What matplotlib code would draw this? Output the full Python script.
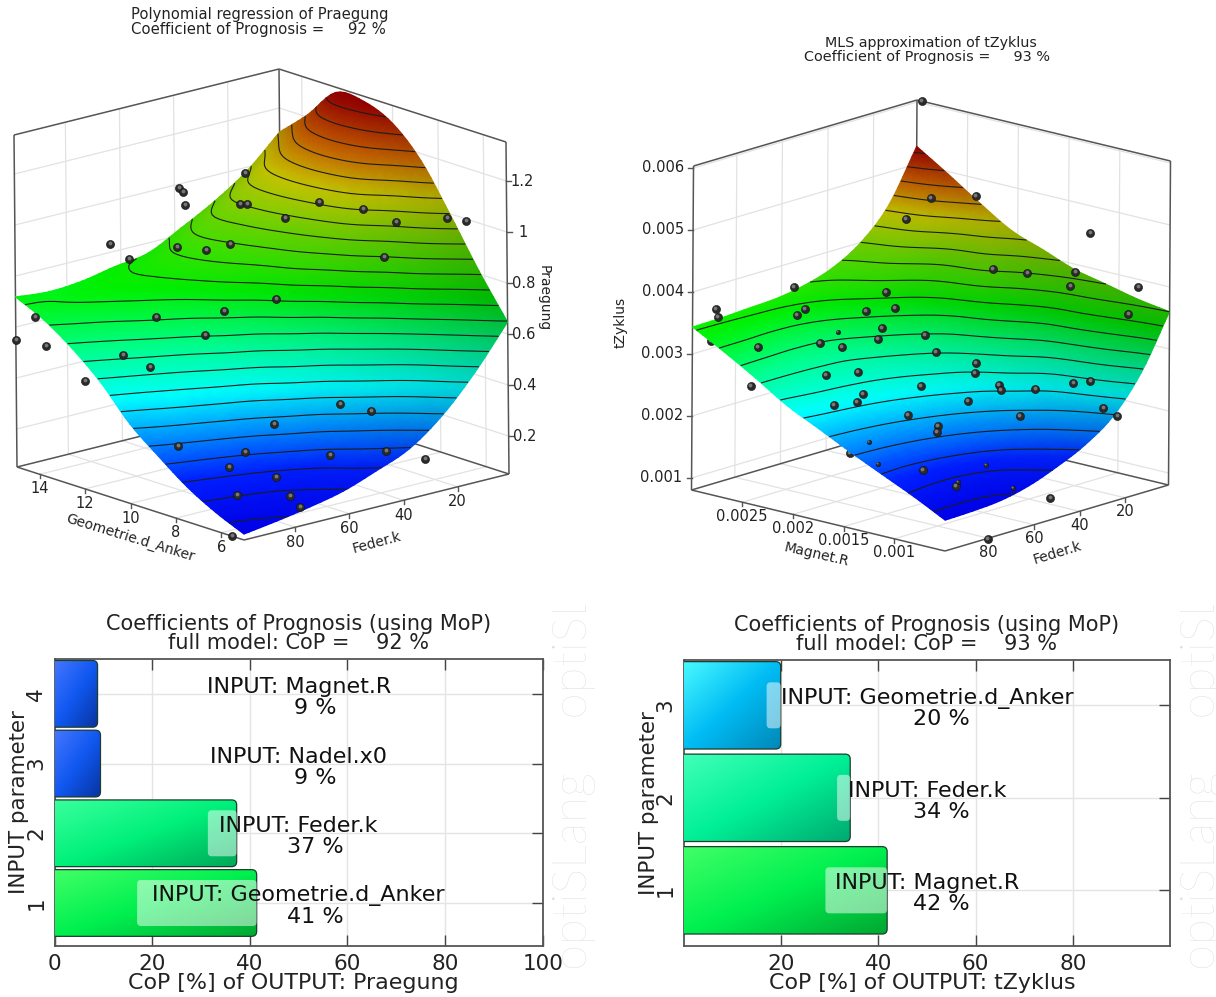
import numpy as np
import matplotlib
matplotlib.use("Agg")
import matplotlib.pyplot as plt
from matplotlib.colors import LinearSegmentedColormap, Normalize
from matplotlib.patches import FancyBboxPatch

W, H = 1216, 997

# ---------- panel 1 data: Praegung surface ----------
feder_k_nodes = [99, 86.75, 74.5, 62.25, 50, 37.75, 25.5, 13.25, 1]
anker_nodes = [5, 6.25, 7.5, 8.75, 10, 11.25, 12.5, 13.75, 15]
praegung_surface = [
    [0.074, 0.093, 0.116, 0.145, 0.192, 0.246, 0.344, 0.481, 0.647],
    [0.124, 0.136, 0.159, 0.201, 0.268, 0.348, 0.465, 0.633, 0.813],
    [0.188, 0.212, 0.248, 0.306, 0.374, 0.486, 0.624, 0.812, 0.998],
    [0.272, 0.311, 0.360, 0.421, 0.522, 0.628, 0.789, 0.957, 1.171],
    [0.363, 0.423, 0.486, 0.564, 0.641, 0.766, 0.903, 1.111, 1.283],
    [0.487, 0.542, 0.601, 0.661, 0.743, 0.834, 0.969, 1.166, 1.333],
    [0.585, 0.632, 0.684, 0.729, 0.795, 0.874, 0.996, 1.153, 1.333],
    [0.663, 0.700, 0.730, 0.755, 0.805, 0.885, 0.980, 1.084, 1.210],
    [0.718, 0.706, 0.715, 0.740, 0.760, 0.826, 0.897, 0.985, 1.106],
]
praegung_levels = [round(.1 + .05 * i, 2) for i in range(25)]
praegung_ticks = [.2, .4, .6, .8, 1, 1.2]
praegung_k_ticks = [20, 40, 60, 80]
praegung_d_ticks = [6, 8, 10, 12, 14]
# sample points as seen in the view plane
praegung_pts_h = [245, 179, 183, 185, 240, 247, 319, 363, 396, 447, 466, 285, 110, 177, 206, 230, 384, 129,
                  276, 224, 156, 35, 16, 46, 205, 123, 150, 85, 340, 371, 274, 178, 245, 229, 330, 386, 425,
                  276, 237, 290, 300, 232]
praegung_pts_v = [173, 188, 192, 205, 204, 204, 202, 209, 222, 218, 221, 218, 244, 247, 250, 244, 257, 259,
                  299, 311, 317, 317, 340, 346, 335, 355, 367, 381, 404, 411, 424, 446, 452, 467, 455, 451, 459,
                  477, 495, 496, 507, 536]

# ---------- panel 2 data: tZyklus surface (in 1e-3) ----------
magnet_nodes = [.0005, .00081, .00113, .00144, .00175, .00206, .00238, .00269, .003]
tzyklus_surface = [
    [1.302, 1.318, 1.355, 1.459, 1.632, 1.851, 2.180, 2.750, 3.602],
    [1.559, 1.531, 1.535, 1.622, 1.810, 2.041, 2.365, 3.006, 3.680],
    [1.799, 1.789, 1.825, 1.916, 2.062, 2.269, 2.549, 3.182, 3.800],
    [2.034, 2.056, 2.105, 2.189, 2.315, 2.493, 2.854, 3.290, 3.915],
    [2.285, 2.315, 2.362, 2.441, 2.556, 2.722, 3.079, 3.530, 4.109],
    [2.531, 2.586, 2.622, 2.673, 2.776, 2.948, 3.247, 3.845, 4.297],
    [2.860, 2.853, 2.860, 2.891, 3.022, 3.211, 3.504, 3.999, 4.621],
    [3.158, 3.151, 3.136, 3.168, 3.286, 3.511, 3.839, 4.306, 4.961],
    [3.435, 3.445, 3.471, 3.497, 3.576, 3.722, 3.994, 4.464, 5.285],
]
tzyklus_levels = [round(1.4 + .2 * i, 1) for i in range(20)]
tzyklus_ticks = [.001, .002, .003, .004, .005, .006]
tzyklus_k_ticks = [20, 40, 60, 80]
tzyklus_r_ticks = [.001, .0015, .002, .0025]
tzyklus_pts_h = [922, 976, 931, 906, 1090, 993, 1027, 1075, 1070, 1138, 794, 886, 716, 718, 805, 797, 866, 895,
                 882, 925, 820, 878, 842, 758, 936, 976, 975, 826, 858, 921, 863, 834, 857, 751, 999, 1001, 1035,
                 1073, 1090, 1128, 968, 1103, 1117, 1020, 908, 938, 937, 923, 956, 1050, 988]
tzyklus_pts_v = [101, 196, 198, 219, 233, 269, 273, 272, 286, 287, 287, 292, 309, 317, 309, 315, 311, 308,
                 328, 335, 343, 339, 347, 347, 352, 363, 373, 375, 372, 386, 394, 405, 402, 386, 385, 390, 389,
                 383, 381, 314, 401, 408, 416, 416, 415, 426, 432, 470, 486, 498, 539]
tzyklus_small_h = [838, 869, 878, 986, 958, 1013]
tzyklus_small_v = [332, 442, 464, 465, 482, 488]
tzyklus_hidden_h = [711, 850]
tzyklus_hidden_v = [341, 453]

# ---------- bar panels ----------
cop_left_inputs = ["Geometrie.d_Anker", "Feder.k", "Nadel.x0", "Magnet.R"]
cop_left_values = [41.4, 37.3, 9.4, 8.8]
cop_left_labels = ["41 %", "37 %", "9 %", "9 %"]
cop_right_inputs = ["Magnet.R", "Feder.k", "Geometrie.d_Anker"]
cop_right_values = [41.8, 34.2, 19.9]
cop_right_labels = ["42 %", "34 %", "20 %"]

surface_cmap = LinearSegmentedColormap.from_list("surface", [
    (0.00, (0, 0, .90)), (0.10, (0, .12, 1)), (0.285, (0, 1, 1)), (0.40, (0, 1, .55)),
    (0.52, (0, .95, 0)), (0.66, (.45, .90, 0)), (0.78, (.90, .88, 0)), (0.88, (.92, .45, 0)),
    (1.00, (.74, 0, 0))])

GRID = "#e2e2e2"
EDGE = "#555555"


def pixel_axes(x0, y0, x1, y1):
    ax = fig.add_axes([x0 / W, 1 - y1 / H, (x1 - x0) / W, (y1 - y0) / H])
    ax.set_xlim(x0, x1)
    ax.set_ylim(y1, y0)
    ax.axis("off")
    return ax


def view_maps(ax, view, rk, rb, rz, bk, bz):
    F, U, V, Wv = [np.array(p, float) for p in view]

    def proj(u, v, w):
        u, v, w = np.asarray(u, float), np.asarray(v, float), np.asarray(w, float)
        return (F[0] + u * U[0] + v * V[0] + w * Wv[0], F[1] + u * U[1] + v * V[1] + w * Wv[1])

    fu = lambda k: (rk[1] - np.asarray(k, float)) / (rk[1] - rk[0])
    fv = lambda b: (np.asarray(b, float) - rb[0]) / (rb[1] - rb[0])
    fw = lambda z: (np.asarray(z, float) - rz[0]) / (rz[1] - rz[0])

    def seg(a, b, **kw):
        pa, pb = proj(*a), proj(*b)
        ax.plot([pa[0], pb[0]], [pa[1], pb[1]], solid_capstyle="butt", **kw)

    g = dict(color=GRID, lw=.9, zorder=1)
    for k in bk:
        u = fu(k)
        seg((u, 1, 0), (u, 1, 1), **g)
        seg((u, 0, 0), (u, 1, 0), **g)
    for b in bz:
        v = fv(b)
        seg((1, v, 0), (1, v, 1), **g)
        seg((0, v, 0), (1, v, 0), **g)
    return proj, fu, fv, fw, seg


def fine_mesh(A, n=6):
    """Subdivide the drawn mesh along both grid directions (Catmull-Rom) so facets do not show."""
    def along(B):
        m = B.shape[0]
        P = np.vstack([2 * B[0] - B[1], B, 2 * B[-1] - B[-2]])
        out = []
        for i in range(m - 1):
            for t in np.arange(n) / n:
                p0, p1, p2, p3 = P[i], P[i + 1], P[i + 2], P[i + 3]
                out.append(.5 * (2 * p1 + (p2 - p0) * t + (2 * p0 - 5 * p1 + 4 * p2 - p3) * t ** 2
                                 + (3 * p1 - p0 - 3 * p2 + p3) * t ** 3))
        out.append(B[-1])
        return np.array(out)
    return along(along(A).T).T


def draw_surface(ax, proj, fu, fv, fw, knodes, bnodes, Z, levels):
    u, v = np.meshgrid(fu(knodes), fv(bnodes))
    Z = np.array(Z, float)
    zmin, zmax = Z.min(), Z.max()
    fu_, fv_, fz_ = fine_mesh(u), fine_mesh(v), fine_mesh(Z)
    X, Y = proj(fu_, fv_, fw(fz_))
    rgba = surface_cmap(Normalize(zmin, zmax)(fz_))
    shade = 1 - .24 * np.clip(fu_, 0, 1) ** 2.5
    rgba[..., :3] *= shade[..., None]
    # paint from the back corner forwards
    ax.pcolormesh(X[::-1, ::-1], Y[::-1, ::-1], rgba[::-1, ::-1], shading="gouraud", zorder=3, rasterized=True)
    ax.contour(X, Y, fz_, levels=levels, colors="#1c1c1c", linewidths=.8, zorder=4)


def balls(ax, h, v, size=34, z=6):
    ax.scatter(h, v, s=size, c="#2a2a2a", edgecolors="#111111", linewidths=.4, zorder=z)
    ax.scatter(np.array(h) - .5, np.array(v) - 1, s=size * .22, c="#777777", linewidths=0, zorder=z + .1)


def box(seg, zticks, fw):
    e = dict(color=EDGE, lw=1.1, zorder=2)
    seg((0, 1, 0), (0, 0, 0), **e)
    seg((0, 0, 0), (1, 0, 0), **e)
    seg((0, 1, 0), (1, 1, 0), **e)
    seg((1, 0, 0), (1, 1, 0), **e)
    seg((0, 1, 0), (0, 1, 1), **e)
    seg((1, 0, 0), (1, 0, 1), **e)
    seg((1, 1, 0), (1, 1, 1), **e)
    seg((0, 1, 1), (1, 1, 1), **e)
    seg((1, 0, 1), (1, 1, 1), **e)
    g = dict(color=GRID, lw=.9, zorder=1)
    for z in zticks:
        w = fw(z)
        seg((0, 1, w), (1, 1, w), **g)
        seg((1, 0, w), (1, 1, w), **g)


fig = plt.figure(figsize=(W / 100, H / 100), dpi=100, facecolor="white")
TXT = "#222222"

# ---------------- panel 1 ----------------
ax1 = pixel_axes(0, 0, 600, 600)
view1 = ((244, 540), (265, -66), (-227, -73), (-3, -332))
rk1, rd1, rz1 = (1, 99), (5, 15), (.051, 1.353)
proj, fu, fv, fw, seg = view_maps(ax1, view1, rk1, rd1, rz1, praegung_k_ticks, praegung_d_ticks)
box(seg, praegung_ticks, fw)
draw_surface(ax1, proj, fu, fv, fw, feder_k_nodes, anker_nodes, praegung_surface, praegung_levels)
balls(ax1, praegung_pts_h, praegung_pts_v)
for z in praegung_ticks:
    x, y = proj(1, 0, fw(z))
    ax1.plot([x, x + 5], [y, y], color=EDGE, lw=1, zorder=2)
    ax1.text(x + 16, y, f"{z:g}", ha="center", va="center", fontsize=10.5, color=TXT)
for k in praegung_k_ticks:
    x, y = proj(fu(k), 0, 0)
    ax1.plot([x, x], [y, y + 4], color=EDGE, lw=1, zorder=2)
    ax1.text(x, y + 15, str(k), ha="center", va="center", fontsize=10.5, color=TXT)
for d in praegung_d_ticks:
    x, y = proj(0, fv(d), 0)
    ax1.plot([x, x], [y, y + 4], color=EDGE, lw=1, zorder=2)
    ax1.text(x, y + 14.5, str(d), ha="center", va="center", fontsize=10.5, color=TXT)
ax1.text(544, 298, "Praegung", rotation=270, ha="center", va="center", fontsize=10, color=TXT)
ax1.text(377, 543, "Feder.k", rotation=15, ha="center", va="center", fontsize=10, color=TXT)
ax1.text(130, 538, "Geometrie.d_Anker", rotation=-17, ha="center", va="center", fontsize=10, color=TXT)
ax1.text(260, 14.5, "Polynomial regression of Praegung", ha="center", va="center", fontsize=10.6, color=TXT)
ax1.text(258.5, 29.5, "Coefficient of Prognosis =     92 %", ha="center", va="center", fontsize=10.7, color=TXT)

# ---------------- panel 2 ----------------
ax2 = pixel_axes(600, 0, W, 600)
view2 = ((945, 551), (223.5, -66), (-253.5, -61), (2, -324))
rk2, rr2, rz2 = (1, 99), (.0005, .003), (.806, 6.032)
proj, fu, fv, fw, seg = view_maps(ax2, view2, rk2, rr2, rz2, tzyklus_k_ticks, tzyklus_r_ticks)
box(seg, [t * 1000 for t in tzyklus_ticks], fw)
balls(ax2, tzyklus_hidden_h, tzyklus_hidden_v, z=2.5)
draw_surface(ax2, proj, fu, fv, fw, feder_k_nodes, magnet_nodes, tzyklus_surface, tzyklus_levels)
balls(ax2, tzyklus_pts_h, tzyklus_pts_v)
balls(ax2, tzyklus_small_h, tzyklus_small_v, size=10)
for z in tzyklus_ticks:
    x, y = proj(0, 1, fw(z * 1000))
    ax2.plot([x, x - 5], [y, y], color=EDGE, lw=1, zorder=2)
    ax2.text(x - 9, y, f"{z:g}", ha="right", va="center", fontsize=10.5, color=TXT)
for k in tzyklus_k_ticks:
    x, y = proj(fu(k), 0, 0)
    ax2.plot([x, x], [y, y + 4], color=EDGE, lw=1, zorder=2)
    ax2.text(x, y + 14, str(k), ha="center", va="center", fontsize=10.5, color=TXT)
for r in tzyklus_r_ticks:
    x, y = proj(0, fv(r), 0)
    ax2.plot([x, x], [y, y + 4], color=EDGE, lw=1, zorder=2)
    ax2.text(x, y + 14, f"{r:g}", ha="center", va="center", fontsize=10.5, color=TXT)
ax2.text(621, 322, "tZyklus", rotation=90, ha="center", va="center", fontsize=10, color=TXT)
ax2.text(1057, 553, "Feder.k", rotation=17, ha="center", va="center", fontsize=10, color=TXT)
ax2.text(816.5, 555, "Magnet.R", rotation=-13, ha="center", va="center", fontsize=10, color=TXT)
ax2.text(930.5, 43, "MLS approximation of tZyklus", ha="center", va="center", fontsize=10.3, color=TXT)
ax2.text(927.5, 57.5, "Coefficient of Prognosis =     93 %", ha="center", va="center", fontsize=10.4, color=TXT)


# ---------------- bar panels ----------------
def cop_panel(rect, ylim, xticks, inputs, values, labels, colours, glow, output, cop, text_x, bar_h):
    x0, y0, x1, y1 = rect
    ax = fig.add_axes([x0 / W, 1 - y1 / H, (x1 - x0) / W, (y1 - y0) / H])
    xlim = (0, 100)
    pos = np.arange(1, len(values) + 1)
    ax.set_xlim(*xlim)
    ax.set_ylim(*ylim)
    ppx = (x1 - x0) / (xlim[1] - xlim[0])
    ppy = (y1 - y0) / (ylim[1] - ylim[0])
    ax.grid(True, color="#e4e4e4", lw=1, zorder=0)
    ax.set_axisbelow(True)
    bars = ax.barh(pos, values, height=bar_h, color=[c[1] for c in colours], zorder=2)
    for b, val, p, c in zip(bars, values, pos, colours):
        fancy = FancyBboxPatch((-5, p - bar_h / 2), val + 5, bar_h,
                               boxstyle=f"round,pad=0,rounding_size={5 / ppx}", mutation_aspect=ppx / ppy,
                               facecolor="none", edgecolor="#1d3d2d", lw=.9, zorder=4)
        ax.add_patch(fancy)
        b.set_clip_path(fancy)
        cm = LinearSegmentedColormap.from_list("b", [c[0], c[1], c[2]])
        gx, gy = np.meshgrid(np.linspace(0, 1, 48), np.linspace(0, 1, 48))
        im = ax.imshow((gx + gy) / 2, extent=[0, val, p - bar_h / 2, p + bar_h / 2], aspect="auto",
                       cmap=cm, vmin=0, vmax=1, origin="upper", zorder=3)
        im.set_clip_path(fancy)
    for (p, left, right) in glow:
        gl = FancyBboxPatch((left, p - 23 / ppy), right - left, 46 / ppy,
                            boxstyle=f"round,pad=0,rounding_size={4 / ppx}", mutation_aspect=ppx / ppy,
                            facecolor="white", edgecolor="none", alpha=.5, zorder=5)
        ax.add_patch(gl)
    ax.set_xlim(*xlim)
    ax.set_ylim(*ylim)
    for p, name, lab in zip(pos, inputs, labels):
        ax.text(text_x[0], p + 7 / ppy, f"INPUT: {name}", ha="center", va="center", fontsize=16,
                color="#111111", zorder=6)
        ax.text(text_x[1], p - 14 / ppy, lab, ha="center", va="center", fontsize=16, color="#111111", zorder=6)
    ax.set_xticks(xticks)
    ax.set_yticks(pos)
    ax.tick_params(axis="both", direction="in", length=8, width=1, color="#444444", top=True, right=True,
                   labelsize=15.5, pad=6, labelcolor=TXT)
    for t in ax.get_yticklabels():
        t.set_rotation(90)
        t.set_va("center")
    for s in ax.spines.values():
        s.set_color("#555555")
        s.set_linewidth(1.3)
    ax.set_xlabel(f"CoP [%] of OUTPUT: {output}", fontsize=15.9, color=TXT, va="center")
    ax.xaxis.set_label_coords(.49, -(983 - y1) / (y1 - y0))
    ax.set_ylabel("INPUT parameter", fontsize=15.4, color=TXT, va="center")
    ax.yaxis.set_label_coords(-.073, .5)
    ax.set_title(f"Coefficients of Prognosis (using MoP)\nfull model: CoP =    {cop} %", fontsize=15,
                 color=TXT, linespacing=.93, pad=7)
    return ax


GREEN = ("#40ff66", "#00f050", "#00a832")
MINT = ("#38ff9c", "#00f07a", "#00a858")
BLUE = ("#4476ff", "#1058f0", "#0834a0")
TEAL = ("#40ffb8", "#00f096", "#00aa70")
CYAN = ("#48f8ff", "#00bcf4", "#0088b8")

cop_panel((54.6, 659, 542.7, 946), (.383, 4.5), [0, 20, 40, 60, 80, 100], cop_left_inputs, cop_left_values,
          cop_left_labels, [GREEN, MINT, BLUE, BLUE], [(1, 16.9, 41.4), (2, 31.4, 37.3)], "Praegung", 92,
          (50.0, 53.5), .957)
cop_panel((684, 660, 1170, 946), (.398, 3.49), [20, 40, 60, 80], cop_right_inputs, cop_right_values,
          cop_right_labels, [GREEN, TEAL, CYAN], [(1, 29.1, 41.8), (2, 31.5, 34.2), (3, 17.0, 19.9)], "tZyklus", 93,
          (50.0, 52.9), .945)

# ---------------- watermarks ----------------
for x0, x1 in ((552, 596), (1180, W)):
    wm = pixel_axes(x0, 605, x1, 992)
    wm.text((x0 + x1) / 2 if x1 < W else 1202, 970, "optiSLang    optiSLang", rotation=90, ha="center", va="bottom",
            fontsize=34, family="Lato", weight="light", color="#dedede", clip_on=True)

fig.savefig("out.png", dpi=100)
